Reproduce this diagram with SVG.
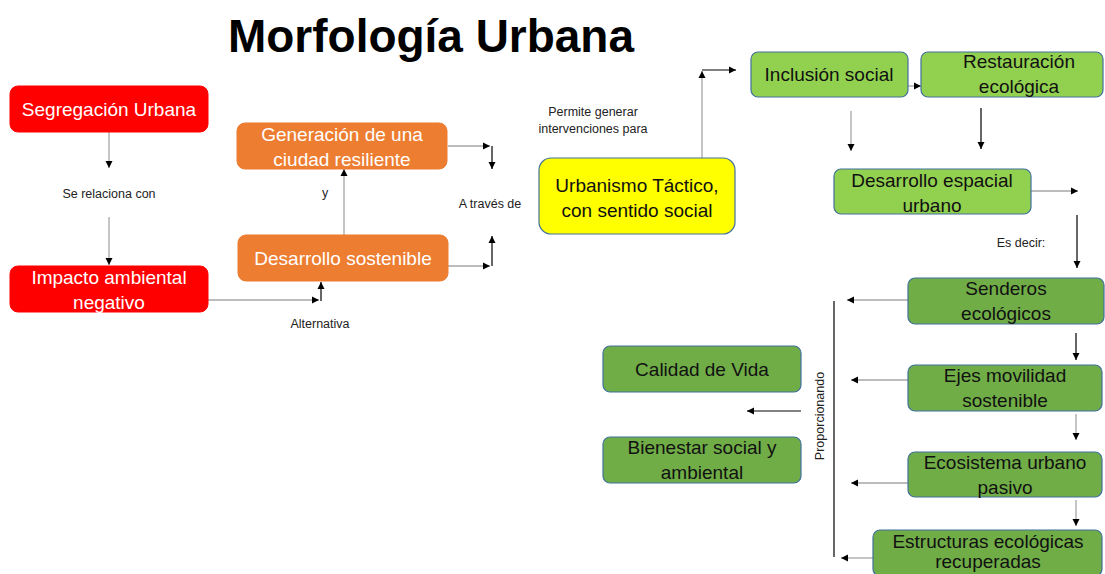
<svg xmlns="http://www.w3.org/2000/svg" width="1105" height="574" viewBox="0 0 1105 574">
<defs>
<marker id="ah" markerWidth="8" markerHeight="8" refX="7" refY="4" orient="auto" markerUnits="userSpaceOnUse">
<path d="M0,0.5 L7,4 L0,7.5 Z" fill="#000"/>
</marker>
<style>
.t{font-family:"Liberation Sans",Arial,sans-serif;text-anchor:middle}
.n{font-size:19px}
.s{font-size:12.5px;fill:#222}
.w{fill:#fff}
.k{fill:#111}
.red{fill:#FF0000;stroke:#FF0000}
.org{fill:#ED7D31;stroke:#ED7D31}
.yel{fill:#FFFF00;stroke:#41719C;stroke-width:1.2}
.lg{fill:#92D050;stroke:#41719C;stroke-width:1.2}
.dg{fill:#70AD47;stroke:#41719C;stroke-width:1.2}
.g{stroke:#A6A6A6;stroke-width:1.3;fill:none}
.b{stroke:#000;stroke-width:1.2;fill:none}
</style>
</defs>
<rect width="1105" height="574" fill="#fff"/>
<text x="431" y="52" class="t" font-size="46" font-weight="bold" fill="#000" textLength="406" lengthAdjust="spacingAndGlyphs">Morfología Urbana</text>

<g id="connectors">
<path class="g" d="M109,132 V168" marker-end="url(#ah)"/>
<path class="g" d="M109,217 V265" marker-end="url(#ah)"/>
<path class="g" d="M208,300 H319" marker-end="url(#ah)"/>
<path class="b" d="M321,301 V282" marker-end="url(#ah)"/>
<path class="g" d="M344,235 V169" marker-end="url(#ah)"/>
<path class="g" d="M448,146 H490" marker-end="url(#ah)"/>
<path class="b" d="M492,146 V169" marker-end="url(#ah)"/>
<path class="g" d="M448,266 H490" marker-end="url(#ah)"/>
<path class="b" d="M492,266 V236" marker-end="url(#ah)"/>
<path class="g" d="M702,158 V71" marker-end="url(#ah)"/>
<path class="b" d="M702,70 H736" marker-end="url(#ah)"/>
<path class="g" d="M908,86 H921" marker-end="url(#ah)"/>
<path class="g" d="M851,111 V151" marker-end="url(#ah)"/>
<path class="b" d="M981,108 V149" marker-end="url(#ah)"/>
<path class="g" d="M1031,191 H1078" marker-end="url(#ah)"/>
<path class="b" d="M1077,215 V268" marker-end="url(#ah)"/>
<path class="g" d="M908,300 H847" marker-end="url(#ah)"/>
<path class="b" d="M834,301 V557"/>
<path class="b" d="M1076,333 V360" marker-end="url(#ah)"/>
<path class="g" d="M908,380 H851" marker-end="url(#ah)"/>
<path class="g" d="M1076,414 V440" marker-end="url(#ah)"/>
<path class="g" d="M908,483 H851" marker-end="url(#ah)"/>
<path class="g" d="M1076,500 V526" marker-end="url(#ah)"/>
<path class="g" d="M873,558 H841" marker-end="url(#ah)"/>
<path d="M801,411 H747" stroke="#595959" stroke-width="1.5" fill="none" marker-end="url(#ah)"/>
<text x="109" y="198" class="t s">Se relaciona con</text>
<text x="320" y="328" class="t s">Alternativa</text>
<text x="325" y="197" class="t s">y</text>
<text x="490" y="208" class="t s">A través de</text>
<text x="593" y="116" class="t s">Permite generar</text>
<text x="593" y="133" class="t s">intervenciones para</text>
<text x="1021" y="247" class="t s">Es decir:</text>
<text transform="translate(824,416) rotate(-90)" class="t s">Proporcionando</text>
</g>

<g id="segregacion"><rect class="red" x="10" y="86" width="198" height="46" rx="8"/><text x="109" y="116" class="t n w">Segregación Urbana</text></g>
<g id="impacto"><rect class="red" x="10" y="266" width="198" height="46" rx="8"/><text x="109" y="284" class="t n w">Impacto ambiental</text><text x="109" y="309" class="t n w">negativo</text></g>
<g id="generacion"><rect class="org" x="237" y="123" width="210" height="46" rx="8"/><text x="342" y="141" class="t n w">Generación de una</text><text x="342" y="166" class="t n w">ciudad resiliente</text></g>
<g id="desarrollo-sostenible"><rect class="org" x="238" y="235" width="210" height="46" rx="8"/><text x="343" y="265" class="t n w">Desarrollo sostenible</text></g>
<g id="urbanismo"><rect class="yel" x="539" y="158" width="196" height="76" rx="12"/><text x="637" y="192" class="t n k">Urbanismo Táctico,</text><text x="637" y="217" class="t n k">con sentido social</text></g>
<g id="inclusion"><rect class="lg" x="751" y="52" width="157" height="45" rx="7"/><text x="829" y="81" class="t n k">Inclusión social</text></g>
<g id="restauracion"><rect class="lg" x="921" y="52" width="182" height="45" rx="7"/><text x="1019" y="68" class="t n k">Restauración</text><text x="1019" y="93" class="t n k">ecológica</text></g>
<g id="desarrollo-espacial"><rect class="lg" x="834" y="169" width="197" height="45" rx="7"/><text x="932" y="187" class="t n k">Desarrollo espacial</text><text x="932" y="212" class="t n k">urbano</text></g>
<g id="senderos"><rect class="dg" x="908" y="278" width="196" height="46" rx="7"/><text x="1006" y="295" class="t n k">Senderos</text><text x="1006" y="320" class="t n k">ecológicos</text></g>
<g id="ejes"><rect class="dg" x="908" y="365" width="194" height="46" rx="7"/><text x="1005" y="382" class="t n k">Ejes movilidad</text><text x="1005" y="407" class="t n k">sostenible</text></g>
<g id="ecosistema"><rect class="dg" x="908" y="452" width="194" height="45" rx="7"/><text x="1005" y="469" class="t n k">Ecosistema urbano</text><text x="1005" y="494" class="t n k">pasivo</text></g>
<g id="estructuras"><rect class="dg" x="873" y="530" width="229" height="46" rx="7"/><text x="988" y="548" class="t n k">Estructuras ecológicas</text><text x="988" y="568" class="t n k">recuperadas</text></g>
<g id="calidad"><rect class="dg" x="603" y="346" width="198" height="46" rx="7"/><text x="702" y="376" class="t n k">Calidad de Vida</text></g>
<g id="bienestar"><rect class="dg" x="603" y="437" width="198" height="46" rx="7"/><text x="702" y="454" class="t n k">Bienestar social y</text><text x="702" y="479" class="t n k">ambiental</text></g>
</svg>
